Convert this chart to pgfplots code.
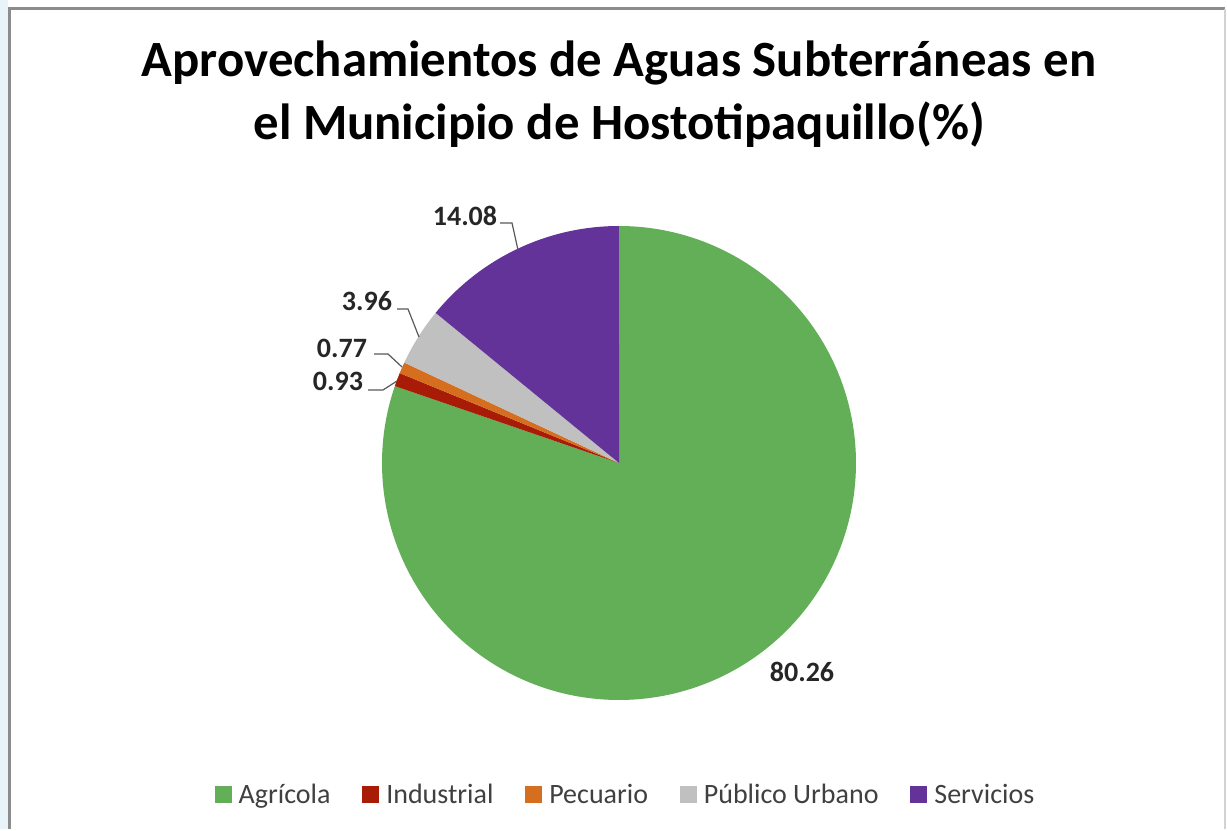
\documentclass[border=0pt]{standalone}
\usepackage{pgfplots}
\pgfplotsset{compat=1.18}
\usepackage{fontspec}
\setmainfont{Carlito}
\definecolor{cAgr}{HTML}{63AF58}
\definecolor{cInd}{HTML}{A81C07}
\definecolor{cPec}{HTML}{D56F1F}
\definecolor{cPub}{HTML}{C0C0C0}
\definecolor{cSer}{HTML}{63339A}
\definecolor{lbl}{HTML}{262626}
\definecolor{legtxt}{HTML}{404040}
\begin{document}
\begin{tikzpicture}
\begin{axis}[
  hide axis, scale only axis,
  width=613.5pt, height=414.5pt,
  xmin=0, xmax=1227, ymin=0, ymax=829,
  clip=false,
  legend columns=5,
  legend style={draw=none, fill=none, at={(axis cs:628,34)}, anchor=center,
    font=\fontsize{14}{16}\selectfont, text=legtxt,
    nodes={inner xsep=3.5pt, inner ysep=1pt},
    /tikz/every even column/.append style={column sep=12.4pt}},
  legend image code/.code={\fill[#1] (0pt,-4.25pt) rectangle (8.5pt,4.25pt);},
]
% background and frame
\addplot[fill=white, draw=none, forget plot] coordinates {(0,0) (1227,0) (1227,829) (0,829)} -- cycle;
\addplot[fill={rgb,255:red,232;green,244;blue,250}, draw=none, forget plot] coordinates {(0,0) (8,0) (8,829) (0,829)} -- cycle;
\addplot[draw={rgb,255:red,140;green,140;blue,140}, line width=1.5pt, forget plot] coordinates {(9,0) (9,820) (1225,820)};
\addplot[draw={rgb,255:red,210;green,210;blue,210}, line width=0.75pt, forget plot] coordinates {(1225,820) (1225,0)};
% pie slices: t is the cumulative percentage, clockwise from 12 o'clock
\addplot[fill=cAgr, draw=none, domain=0:80.26, samples=240, variable=\t]
  ({619+237*sin(3.6*\t)}, {366+237*cos(3.6*\t)}) -- (619,366) -- cycle;
\addlegendentry{Agrícola}
\addplot[fill=cInd, draw=none, domain=80.26:81.19, samples=10, variable=\t]
  ({619+237*sin(3.6*\t)}, {366+237*cos(3.6*\t)}) -- (619,366) -- cycle;
\addlegendentry{Industrial}
\addplot[fill=cPec, draw=none, domain=81.19:81.96, samples=10, variable=\t]
  ({619+237*sin(3.6*\t)}, {366+237*cos(3.6*\t)}) -- (619,366) -- cycle;
\addlegendentry{Pecuario}
\addplot[fill=cPub, draw=none, domain=81.96:85.92, samples=20, variable=\t]
  ({619+237*sin(3.6*\t)}, {366+237*cos(3.6*\t)}) -- (619,366) -- cycle;
\addlegendentry{Público Urbano}
\addplot[fill=cSer, draw=none, domain=85.92:100, samples=60, variable=\t]
  ({619+237*sin(3.6*\t)}, {366+237*cos(3.6*\t)}) -- (619,366) -- cycle;
\addlegendentry{Servicios}
% leader lines
\addplot[draw={rgb,255:red,89;green,89;blue,89}, line width=0.6pt, forget plot] coordinates {(500,606) (512,606) (518,579)};
\addplot[draw={rgb,255:red,89;green,89;blue,89}, line width=0.6pt, forget plot] coordinates {(397,520) (408,520) (419,492)};
\addplot[draw={rgb,255:red,89;green,89;blue,89}, line width=0.6pt, forget plot] coordinates {(374,475) (388,475) (402,462)};
\addplot[draw={rgb,255:red,89;green,89;blue,89}, line width=0.6pt, forget plot] coordinates {(368,439) (383,439) (397,448)};
% data labels
\node[font=\fontsize{14}{16}\selectfont\bfseries, text=lbl, inner sep=0pt] at (axis cs:465,613) {14.08};
\node[font=\fontsize{14}{16}\selectfont\bfseries, text=lbl, inner sep=0pt] at (axis cs:367,528) {3.96};
\node[font=\fontsize{14}{16}\selectfont\bfseries, text=lbl, inner sep=0pt] at (axis cs:342,481) {0.77};
\node[font=\fontsize{14}{16}\selectfont\bfseries, text=lbl, inner sep=0pt] at (axis cs:338,448) {0.93};
\node[font=\fontsize{14}{16}\selectfont\bfseries, text=lbl, inner sep=0pt] at (axis cs:802,157) {80.26};
% title
\node[font=\fontsize{25.4}{30}\selectfont\bfseries, anchor=base, inner sep=0pt] at (axis cs:619,752) {Aprovechamientos de Aguas Subterráneas en};
\node[font=\fontsize{25.4}{30}\selectfont\bfseries, anchor=base, inner sep=0pt] at (axis cs:619,689) {el Municipio de Hostotipaquillo(\%)};
\end{axis}
\end{tikzpicture}
\end{document}
